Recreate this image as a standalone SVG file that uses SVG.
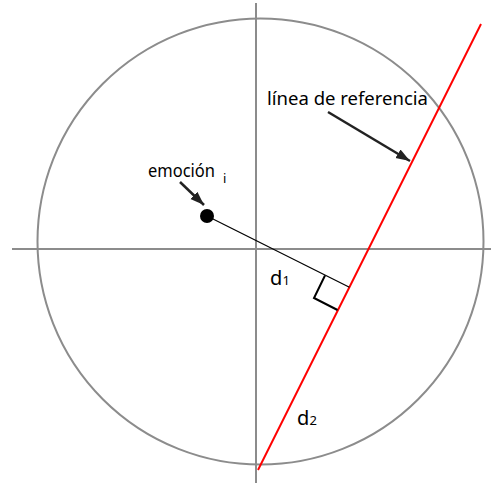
<svg xmlns="http://www.w3.org/2000/svg" width="492" height="483" viewBox="0 0 492 483">
<style>
.axis{stroke:#8c8c8c;stroke-width:2;fill:none}
.ref{stroke:#ff0000;stroke-width:2;fill:none}
.blk{stroke:#000;fill:none}
.ptr{stroke:#222;stroke-width:2.5;fill:none}
text{font-family:"Noto Sans","Open Sans","Liberation Sans",sans-serif;fill:#000}
</style>
<defs>
<marker id="ah" markerUnits="userSpaceOnUse" markerWidth="16" markerHeight="12" refX="14" refY="6" orient="auto">
<path d="M0,1 L14,6 L0,11 z" fill="#222"/>
</marker>
</defs>
<rect width="492" height="483" fill="#fff"/>
<g id="circle"><circle class="axis" cx="260.5" cy="241.5" r="223"/></g>
<g id="axes">
<line class="axis" x1="12" y1="249" x2="491" y2="249"/>
<line class="axis" x1="256" y1="3" x2="256" y2="483"/>
</g>
<g id="reference-line"><line class="ref" x1="481" y1="24" x2="258" y2="470"/></g>
<g id="connectors">
<line class="blk" stroke-width="1.2" x1="207" y1="216" x2="349.4" y2="287.2"/>
<polyline class="blk" stroke-width="2" points="325,275.5 314,298 337.5,310"/>
<line class="ptr" x1="180" y1="182" x2="204" y2="205" marker-end="url(#ah)"/>
<line class="ptr" x1="328" y1="112" x2="410" y2="161" marker-end="url(#ah)"/>
</g>
<g id="emocion">
<circle cx="207" cy="216" r="7" fill="#000"/>
<text x="148" y="177" font-size="18" textLength="67" lengthAdjust="spacingAndGlyphs">emoción</text>
<text x="223" y="183" font-size="13">i</text>
</g>
<g id="label-ref"><text x="267" y="105" font-size="18" textLength="161" lengthAdjust="spacingAndGlyphs">línea de referencia</text></g>
<g id="d1"><text x="270" y="285" font-size="20">d</text><text x="282.5" y="285" font-size="13">1</text></g>
<g id="d2"><text x="297" y="425" font-size="20">d</text><text x="309.5" y="425" font-size="13">2</text></g>
</svg>
